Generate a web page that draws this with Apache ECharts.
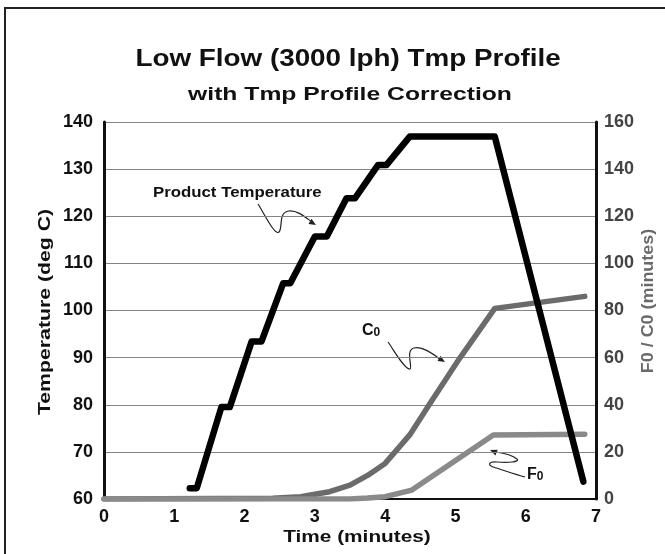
<!DOCTYPE html>
<html>
<head>
<meta charset="utf-8">
<script src="https://cdn.jsdelivr.net/npm/echarts@6/dist/echarts.min.js"></script>
<style>
  html, body { margin: 0; padding: 0; background: #fff; }
  #chart { width: 665px; height: 554px; }
</style>
</head>
<body>
<div id="chart"></div>
<script>
// time axis ticks (minutes)
const timeTicks = [0, 1, 2, 3, 4, 5, 6, 7]

// product temperature (deg C), left axis
const tempTime  = [1.22, 1.32, 1.67, 1.79, 2.10, 2.24, 2.55, 2.65, 3.00, 3.17, 3.45, 3.57, 3.90, 4.02, 4.35, 5.56, 6.82]
const tempValue = [62.3, 62.3, 79.5, 79.5, 93.4, 93.4, 105.8, 105.8, 115.7, 115.7, 123.8, 123.8, 130.9, 130.9, 136.9, 136.9, 63.7]

// C0 (minutes), right axis
const c0Time  = [0, 2.4, 2.8, 3.0, 3.21, 3.5, 3.75, 4.0, 4.35, 4.64, 5.06, 5.56, 6.84]
const c0Value = [0, 0.3, 1, 2, 3.1, 5.9, 10, 15.1, 27.2, 40.6, 59.7, 80.9, 86]

// F0 (minutes), right axis
const f0Time  = [0, 3.5, 3.75, 4.0, 4.38, 4.87, 5.54, 6.84]
const f0Value = [0, 0, 0.4, 1, 3.8, 13.7, 27.2, 27.5]

const zip = (xs, ys) => xs.map((x, i) => [x, ys[i]])

const FONT = '"Liberation Sans", Arial, sans-serif'

// squiggle callout: start point then cubic segments [cp1x,cp1y,cp2x,cp2y,x,y]
function squiggle(start, segs) {
    let out = []
    let [px, py] = start
    segs.forEach(s => {
        out.push({
            type: 'bezierCurve',
            shape: { x1: px, y1: py, cpx1: s[0], cpy1: s[1], cpx2: s[2], cpy2: s[3], x2: s[4], y2: s[5] },
            style: { fill: 'none', stroke: '#222', lineWidth: 1.2 },
            silent: true
        })
        px = s[4]; py = s[5]
    })
    return out
}

function sub(x, y, a, b) {
    return {
        type: 'text', x: x, y: y,
        style: {
            text: '{a|' + a + '}{b|' + b + '}', textAlign: 'left', textVerticalAlign: 'middle',
            rich: {
                a: { fontFamily: FONT, fontSize: 16, fontWeight: 'bold', fill: '#111', verticalAlign: 'bottom' },
                b: { fontFamily: FONT, fontSize: 12, fontWeight: 'bold', fill: '#111', verticalAlign: 'bottom' }
            }
        }
    }
}

// wide bold text (the source font is stretched horizontally)
function wideText(text, x, y, size, scale, color, rotation) {
    return {
        type: 'text', x: x, y: y, scaleX: scale, rotation: rotation || 0,
        style: { text: text, fontFamily: FONT, fontSize: size, fontWeight: 'bold', fill: color, textAlign: 'center', textVerticalAlign: 'middle' }
    }
}

let mychart = echarts.init(document.getElementById('chart'))

mychart.setOption({
    animation: false,
    backgroundColor: '#fff',
    grid: { left: 104, right: 69, top: 122, bottom: 55 },
    xAxis: {
        type: 'value',
        min: 0, max: 7, interval: 1,
        axisLine: { lineStyle: { color: '#111', width: 2 } },
        axisTick: { show: false },
        splitLine: { show: false },
        axisLabel: {
            margin: 9,
            fontFamily: FONT, fontSize: 18, fontWeight: 'bold', color: '#111',
            formatter: v => timeTicks.includes(v) ? String(v) : ''
        }
    },
    yAxis: [
        {
            type: 'value',
            min: 60, max: 140, interval: 10,
            axisLine: { show: true, lineStyle: { color: '#111', width: 3 } },
            axisTick: { show: false },
            splitLine: { lineStyle: { color: '#858585', width: 1 } },
            axisLabel: { margin: 11, fontFamily: FONT, fontSize: 18, fontWeight: 'bold', color: '#111' }
        },
        {
            type: 'value',
            min: 0, max: 160, interval: 20,
            position: 'right',
            axisLine: { show: true, lineStyle: { color: '#111', width: 3 } },
            axisTick: { show: false },
            splitLine: { show: false },
            axisLabel: { margin: 8, fontFamily: FONT, fontSize: 18, fontWeight: 'bold', color: '#444' }
        }
    ],
    series: [
        {
            name: 'C0', type: 'line', yAxisIndex: 1,
            data: zip(c0Time, c0Value),
            showSymbol: false,
            lineStyle: { color: '#6b6b6b', width: 5.5, cap: 'round', join: 'round' }
        },
        {
            name: 'F0', type: 'line', yAxisIndex: 1,
            data: zip(f0Time, f0Value),
            showSymbol: false,
            lineStyle: { color: '#8a8a8a', width: 5.5, cap: 'round', join: 'round' }
        },
        {
            name: 'Product Temperature', type: 'line', yAxisIndex: 0,
            data: zip(tempTime, tempValue),
            showSymbol: false,
            lineStyle: { color: '#000', width: 6.5, cap: 'round', join: 'round' }
        }
    ],
    graphic: [
        // outer frame
        { type: 'rect', shape: { x: 5, y: 8, width: 700, height: 600 }, style: { fill: 'none', stroke: '#222', lineWidth: 2 }, silent: true },
        // titles
        wideText('Low Flow (3000 lph) Tmp Profile', 348, 60, 23, 1.21, '#111'),
        wideText('with Tmp Profile Correction', 350, 95, 19, 1.3, '#111'),
        // axis names
        wideText('Time (minutes)', 357, 538, 16, 1.3, '#111'),
        wideText('Temperature (deg C)', 45, 312, 17, 1.25, '#111', Math.PI / 2),
        wideText('F0 / C0 (minutes)', 649, 301, 16, 1.12, '#6a6a6a', Math.PI / 2),
        // annotation labels
        {
            type: 'text', x: 153, y: 193, scaleX: 1.12,
            style: { text: 'Product Temperature', fontFamily: FONT, fontSize: 15, fontWeight: 'bold', fill: '#111', textAlign: 'left', textVerticalAlign: 'middle' }
        },
        sub(362, 331, 'C', '0'),
        sub(527, 475, 'F', '0'),
        // squiggle arrows
        ...squiggle([258, 204], [[265, 215, 275, 236, 279, 232], [283, 228, 278, 212, 289, 211], [297, 210, 305, 217, 312, 222]]),
        { type: 'polygon', shape: { points: [[316, 225], [308.5, 224], [311.5, 218.8]] }, style: { fill: '#222' } },
        ...squiggle([388, 342], [[395, 352, 405, 370, 410, 369], [413, 368, 405, 350, 414, 348], [422, 346, 432, 353, 441, 360]]),
        { type: 'polygon', shape: { points: [[445, 362], [437.5, 361], [440.5, 355.8]] }, style: { fill: '#222' } },
        ...squiggle([525, 477], [[514, 474, 503, 470, 493, 467], [487, 465, 489, 461, 497, 462], [508, 463, 520, 462, 517, 459], [512, 455, 503, 453, 496, 452]]),
        { type: 'polygon', shape: { points: [[490, 450], [497.6, 449.8], [495.4, 455.4]] }, style: { fill: '#222' } }
    ]
})
</script>
</body>
</html>
